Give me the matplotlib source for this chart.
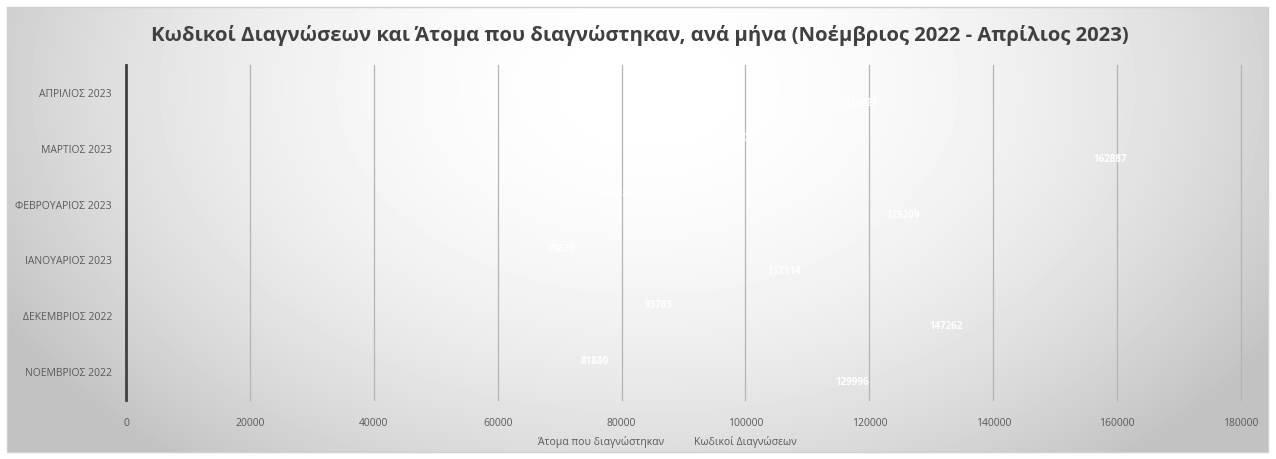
import numpy as np
import matplotlib
matplotlib.use("Agg")
import matplotlib.pyplot as plt
from matplotlib.patches import Rectangle, Patch

plt.rcParams['font.family'] = ['Open Sans', 'DejaVu Sans']

months = ["ΝΟΕΜΒΡΙΟΣ 2022", "ΔΕΚΕΜΒΡΙΟΣ 2022", "ΙΑΝΟΥΑΡΙΟΣ 2023",
          "ΦΕΒΡΟΥΑΡΙΟΣ 2023", "ΜΑΡΤΙΟΣ 2023", "ΑΠΡΙΛΙΟΣ 2023"]
atoma = [81880, 93763, 75630, 82392, 101900, 86500]
kodikoi = [129996, 147262, 117114, 129209, 162887, 122421]
series_names = ["Άτομα που διαγνώστηκαν", "Κωδικοί Διαγνώσεων"]
xticks = [0, 20000, 40000, 60000, 80000, 100000, 120000, 140000, 160000, 180000]

# how far (px) each label sits inside its bar end, as in the original
off_atoma = [24, 34, 19, 8, 8, 8]
off_kod = [62, 76, 51, 7, 8, 7]

W, H = 1276, 459
fig = plt.figure(figsize=(W / 100, H / 100), dpi=100)

# radial grey background inside the chart frame
bg = fig.add_axes([7 / W, 7 / H, 1261 / W, 445 / H])
yy, xx = np.mgrid[0:445, 0:1261]
d2 = ((xx - 640) / 720.0) ** 2 + ((yy - 80) / 480.0) ** 2
g = 1.0 - 0.23 * np.clip(d2, 0, 1.05)
bg.imshow(g, cmap="gray", vmin=0, vmax=1, aspect="auto", interpolation="bilinear")
bg.axis("off")
fig.add_artist(Rectangle((7 / W, 7 / H), 1261 / W, 445 / H, transform=fig.transFigure,
                         fill=False, edgecolor="#d0d0d0", lw=1))

ax = fig.add_axes([126 / W, 1 - 400 / H, (1241 - 126) / W, 335 / H])
ax.set_facecolor("none")

y = np.arange(len(months))
h = 0.38
b1 = ax.barh(y + h / 2, atoma, height=h, facecolor="none", edgecolor="none", label=series_names[0])
b2 = ax.barh(y - h / 2, kodikoi, height=h, facecolor="none", edgecolor="none", label=series_names[1])

for bars, vals, offs in [(b1, atoma, off_atoma), (b2, kodikoi, off_kod)]:
    for r, v, o in zip(bars, vals, offs):
        ax.annotate(str(v), (v, r.get_y() + r.get_height() / 2), xytext=(-o, 0),
                    textcoords="offset pixels", ha="right", va="center",
                    color="white", fontsize=7, fontweight="bold")

ax.set_xlim(0, 180000)
ax.set_ylim(-0.5, len(months) - 0.5)
ax.set_xticks(xticks)
ax.set_xticklabels([str(t) for t in xticks])
ax.set_yticks(y)
ax.set_yticklabels(months)
ax.tick_params(axis="both", length=0, colors="#595959", labelsize=7.5)
ax.tick_params(axis="x", pad=13)
ax.tick_params(axis="y", pad=10)
for t in xticks[1:]:
    ax.axvline(t, color="#b4b4b4", lw=0.9, zorder=0, clip_on=False)
for s in ["top", "right", "bottom"]:
    ax.spines[s].set_visible(False)
ax.spines["left"].set_color("#404040")
ax.spines["left"].set_linewidth(2)

fig.text(640 / W, 1 - 35 / H,
         "Κωδικοί Διαγνώσεων και Άτομα που διαγνώστηκαν, ανά μήνα (Νοέμβριος 2022 - Απρίλιος 2023)",
         ha="center", va="center", fontsize=14.6, fontweight="bold", color="#404040")

handles = [Patch(facecolor="none", edgecolor="none") for _ in series_names]
fig.legend(handles, series_names, loc="center", bbox_to_anchor=(660 / W, 1 - 442 / H),
           ncol=2, frameon=False, fontsize=7.5, labelcolor="#595959",
           handlelength=0.6, columnspacing=1.5)

fig.savefig("out.png", dpi=100)
